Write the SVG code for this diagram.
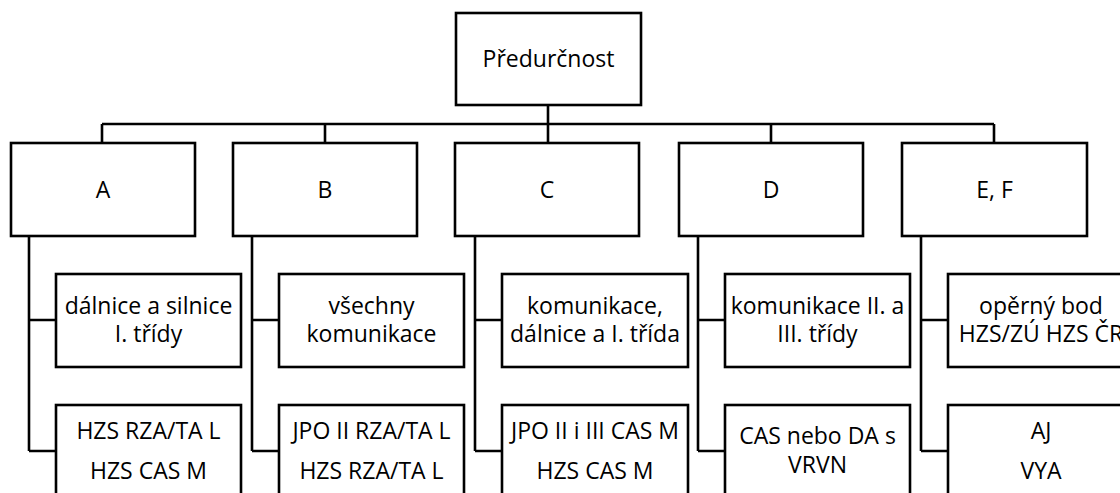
<svg xmlns="http://www.w3.org/2000/svg" width="1120" height="493" viewBox="0 0 1120 493">
<style>
.box{fill:#fff;stroke:#000;stroke-width:2.6}
.ln{fill:none;stroke:#000;stroke-width:2.6}
text{font-family:"Open Sans","Noto Sans",sans-serif;font-size:23px;fill:#000;text-anchor:middle}
</style>
<rect width="1120" height="493" fill="#fff"/>
<g id="connectors" class="ln">
<path d="M548 105V124M102 124H994M102 124V143M325 124V143M548 124V143M771 124V143M994 124V143"/>
<path d="M29 236V451M29 320H56M29 451H56"/>
<path d="M252 236V451M252 320H279M252 451H279"/>
<path d="M475 236V451M475 320H502M475 451H502"/>
<path d="M698 236V451M698 320H725M698 451H725"/>
<path d="M921 236V451M921 320H948M921 451H948"/>
</g>
<g id="root"><rect class="box" x="456" y="13" width="185" height="92"/><text x="548.5" y="67">Předurčnost</text></g>
<g id="A"><rect class="box" x="11" y="143" width="184" height="93"/><text x="103" y="198">A</text></g>
<g id="B"><rect class="box" x="233" y="143" width="184" height="93"/><text x="325" y="198">B</text></g>
<g id="C"><rect class="box" x="455" y="143" width="184" height="93"/><text x="547" y="198">C</text></g>
<g id="D"><rect class="box" x="679" y="143" width="184" height="93"/><text x="771" y="198">D</text></g>
<g id="EF"><rect class="box" x="902" y="143" width="185" height="93"/><text x="994.5" y="198">E, F</text></g>
<g id="A1"><rect class="box" x="56" y="274" width="185" height="93"/><text x="148.5" y="314">dálnice a silnice</text><text x="148.5" y="342">I. třídy</text></g>
<g id="A2"><rect class="box" x="56" y="405" width="185" height="100"/><text x="148.5" y="439">HZS RZA/TA L</text><text x="148.5" y="479">HZS CAS M</text></g>
<g id="B1"><rect class="box" x="279" y="274" width="185" height="93"/><text x="371.5" y="314">všechny</text><text x="371.5" y="342">komunikace</text></g>
<g id="B2"><rect class="box" x="279" y="405" width="185" height="100"/><text x="371.5" y="439">JPO II RZA/TA L</text><text x="371.5" y="479">HZS RZA/TA L</text></g>
<g id="C1"><rect class="box" x="502" y="274" width="186" height="93"/><text x="595" y="314">komunikace,</text><text x="595" y="342">dálnice a I. třída</text></g>
<g id="C2"><rect class="box" x="502" y="405" width="186" height="100"/><text x="595" y="439">JPO II i III CAS M</text><text x="595" y="479">HZS CAS M</text></g>
<g id="D1"><rect class="box" x="725" y="274" width="185" height="93"/><text x="817.5" y="314">komunikace II. a</text><text x="817.5" y="342">III. třídy</text></g>
<g id="D2"><rect class="box" x="725" y="405" width="185" height="100"/><text x="817.5" y="444">CAS nebo DA s</text><text x="817.5" y="473">VRVN</text></g>
<g id="E1"><rect class="box" x="948" y="274" width="186" height="93"/><text x="1041" y="314">opěrný bod</text><text x="1041" y="342">HZS/ZÚ HZS ČR</text></g>
<g id="E2"><rect class="box" x="948" y="405" width="186" height="100"/><text x="1041" y="439">AJ</text><text x="1041" y="479">VYA</text></g>
</svg>
